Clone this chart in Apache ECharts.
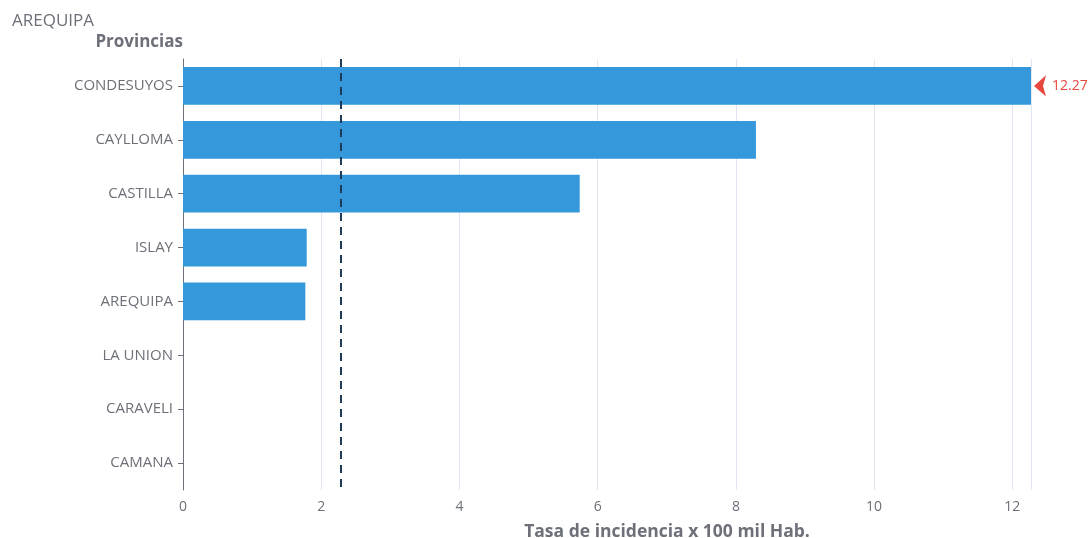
<!DOCTYPE html>
<html><head><meta charset="utf-8">
<script src="https://cdn.jsdelivr.net/npm/echarts@6/dist/echarts.min.js"></script>
<style>html,body{margin:0;padding:0;background:#fff}#c{width:1090px;height:538px}</style>
</head><body><div id="c"></div>
<script>
const categories = ['CONDESUYOS','CAYLLOMA','CASTILLA','ISLAY','AREQUIPA','LA UNION','CARAVELI','CAMANA'];
const values = [12.27, 8.29, 5.74, 1.79, 1.77, 0, 0, 0];
const meanValue = 2.28;
const chart = echarts.init(document.getElementById('c'));
const font = 'Open Sans';
chart.setOption({
  animation: false,
  title: { text: 'AREQUIPA', left: 7, top: 8, textStyle: { fontFamily: font, fontSize: 17, fontWeight: 'normal', color: '#6e7079' } },
  grid: { left: 183, right: 59, top: 59, bottom: 48, containLabel: false, outerBoundsMode: 'none' },
  xAxis: {
    type: 'value', min: 0, max: 'dataMax', interval: 2,
    name: 'Tasa de incidencia x 100 mil Hab.', nameLocation: 'middle', nameGap: 33,
    nameTextStyle: { fontFamily: font, fontSize: 17.5, fontWeight: 'bold', color: '#6e7079', padding: [0,0,0,120] },
    axisLine: { show: false }, axisTick: { show: false },
    axisLabel: { fontFamily: font, fontSize: 14, color: '#6e7079', margin: 10 },
    splitLine: { lineStyle: { color: '#e0e6f1' } }
  },
  yAxis: {
    type: 'category', data: categories, inverse: true,
    name: 'Provincias', nameLocation: 'start', nameGap: 8,
    nameTextStyle: { fontFamily: font, fontSize: 17, fontWeight: 'bold', color: '#6e7079', align: 'right' },
    axisLine: { show: true, lineStyle: { color: '#6e7079' } },
    axisTick: { show: true, alignWithLabel: true },
    axisLabel: { fontFamily: font, fontSize: 15, color: '#6e7079', margin: 10 }
  },
  series: [{
    type: 'bar', data: values, barWidth: '70%',
    itemStyle: { color: '#3498db' },
    markLine: {
      symbol: 'none', silent: true,
      label: { show: false },
      lineStyle: { color: '#1f3b5a', type: [8, 6], width: 2 },
      data: [{ xAxis: meanValue }]
    },
    markPoint: {
      symbol: 'arrow', symbolSize: [16, 12], symbolRotate: 90, symbolOffset: [3, 0],
      itemStyle: { color: '#e8473d' },
      label: { show: true, position: 'right', distance: 6, color: '#e8473d', fontFamily: font, fontSize: 14, formatter: p => p.value },
      data: [{ coord: [values[0], categories[0]], value: values[0] }]
    }
  }]
});
</script></body></html>
